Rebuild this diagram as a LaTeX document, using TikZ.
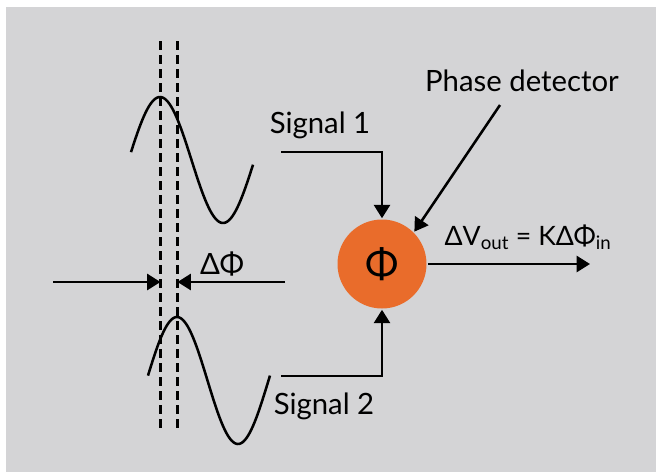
\documentclass[tikz,border=0pt]{standalone}
\usepackage{fontspec}
\setmainfont{Lato}
\usetikzlibrary{arrows.meta}

\definecolor{bggray}{RGB}{212,212,214}
\definecolor{detorange}{RGB}{233,108,43}

\tikzset{every picture/.style={line width=1.9pt}}
\tikzset{
	arr/.style={-{Triangle[length=10pt,width=12pt]}},
	wave/.style={line width=1.9pt,smooth},
	marker/.style={line width=2.2pt,dash pattern=on 7pt off 3.5pt},
	lbl/.style={font=\fontsize{22}{26}\selectfont,inner sep=0pt}
}

\begin{document}
\begin{tikzpicture}[x=0.75pt,y=0.75pt,yscale=-1,xscale=1]
		\useasboundingbox (0,0) rectangle (658,472);
		%Background
		\fill[bggray] (6,7) rectangle (656,472);

		%Dashed markers
		\coordinate (mkA) at (160.5,41);
		\coordinate (mkB) at (177.5,41);
		\draw[marker] (mkA) -- ++(0,391);
		\draw[marker] (mkB) -- ++(0,391);

		%Sine waves
		\draw[wave] plot[domain=131:253,samples=80] (\x,{160-63*cos((\x-160)*2.857)});
		\draw[wave] plot[domain=148:270,samples=80] (\x,{380.5-63.5*cos((\x-177)*2.951)});

		%Shape: Circle
		\node[circle,fill=detorange,minimum size=89*0.75pt,inner sep=0pt] (det) at (382,264) {\fontsize{30}{34}\selectfont Φ};

		%Delta Phi arrows
		\coordinate (dpl) at (53,282);
		\coordinate (dpr) at (285,282);
		\draw[arr] (dpl) -- (dpl -| mkA);
		\draw[arr] (dpr) -- (dpr -| mkB);

		%Signal lines
		\coordinate (s1) at (281,152);
		\coordinate (s2) at (281,376);
		\draw[arr] (s1) -| (det.north);
		\draw[arr] (s2) -| (det.south);

		%Phase detector pointer
		\coordinate (pd) at (500,105);
		\draw[arr] (pd) -- (det.45);

		%Output
		\coordinate (out) at (590,264);
		\draw[arr] (det.east) -- (out);

		% Text Node
		\node[lbl] (sig1) at (320,125) {Signal 1};
		% Text Node
		\node[lbl] (sig2) at (324,406) {Signal 2};
		% Text Node
		\node[lbl] (pdl) at (522,81) {Phase detector};
		% Text Node
		\node[lbl] (dphi) at (222,264) {ΔΦ};
		% Text Node
		\node[lbl,font=\fontsize{20}{24}\selectfont,anchor=base] (vout) at (528,245) {ΔV\textsubscript{out} = KΔΦ\textsubscript{in}};

\end{tikzpicture}
\end{document}
